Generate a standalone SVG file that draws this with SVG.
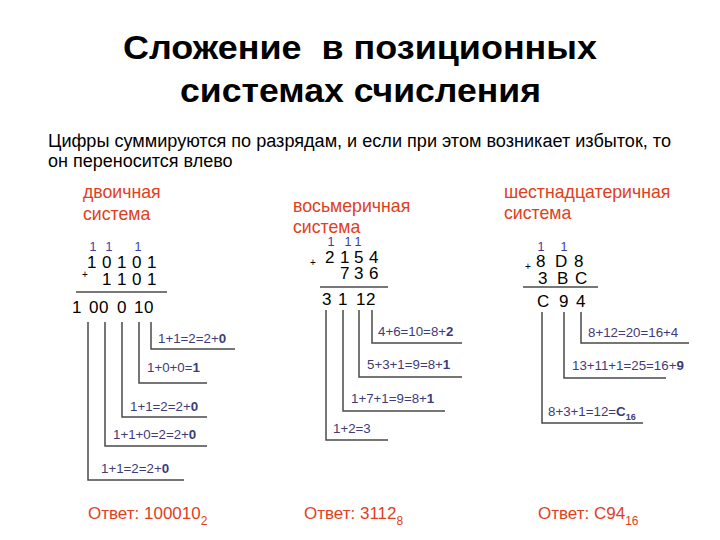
<svg xmlns="http://www.w3.org/2000/svg" width="720" height="540" viewBox="0 0 720 540">
<style>
text{font-family:"Liberation Sans",Arial,sans-serif}
.title{font-size:34px;font-weight:bold;fill:#000}
.sub{font-size:18px;fill:#000}
.lab{font-size:17.7px;fill:#e0401e}
.num{font-size:17px;fill:#000}
.car{font-size:12.5px;fill:#3a3a9a;text-anchor:middle}
.plus{font-size:10px;fill:#000}
.exp{font-size:13.3px;fill:#3c3c78}
.b{font-weight:bold}
.ans{font-size:17px;fill:#e0401e}
.sb{font-size:12px}
.ln{stroke:#4a4a4a;stroke-width:1.5;fill:none}
.sum{stroke:#777;stroke-width:2}
</style>
<rect width="720" height="540" fill="#fff"/>
<g id="title">
<text class="title" x="123" y="59" textLength="474" lengthAdjust="spacingAndGlyphs" xml:space="preserve">Сложение  в позиционных</text>
<text class="title" x="180" y="102" textLength="361" lengthAdjust="spacingAndGlyphs">системах счисления</text>
</g>
<g id="intro">
<text class="sub" x="48" y="147" textLength="623" lengthAdjust="spacingAndGlyphs">Цифры суммируются по разрядам, и если при этом возникает избыток, то</text>
<text class="sub" x="48" y="167">он переносится влево</text>
</g>
<g id="binary">
<text class="lab" x="83" y="198">двоичная</text>
<text class="lab" x="83" y="220">система</text>
<text class="car" x="93 109 138" y="251">111</text>
<text class="num" x="87 102 117 132 147" y="268">10101</text>
<text class="plus" x="82" y="278">+</text>
<text class="num" x="102 117 132 147" y="285">1101</text>
<line class="sum" x1="76" y1="292" x2="167" y2="292"/>
<text class="num" x="72 89 99 117 134 144" y="313">100010</text>
<text class="exp" x="158" y="343">1+1=2=2+<tspan class="b">0</tspan></text>
<text class="exp" x="147" y="372">1+0+0=<tspan class="b">1</tspan></text>
<text class="exp" x="130" y="411">1+1=2=2+<tspan class="b">0</tspan></text>
<text class="exp" x="113" y="439">1+1+0=2=2+<tspan class="b">0</tspan></text>
<text class="exp" x="101" y="473">1+1=2=2+<tspan class="b">0</tspan></text>
<text class="ans" x="88" y="519">Ответ: 100010<tspan class="sb" dy="6">2</tspan></text>
</g>
<g id="octal">
<text class="lab" x="293" y="212">восьмеричная</text>
<text class="lab" x="293" y="233">система</text>
<text class="car" x="331 348 358" y="246">111</text>
<text class="plus" x="310" y="266">+</text>
<text class="num" x="325 340 354 369" y="263">2154</text>
<text class="num" x="340 354 369" y="279">736</text>
<line class="sum" x1="320" y1="287" x2="388" y2="287"/>
<text class="num" x="322 338 356 366" y="305">3112</text>
<text class="exp" x="378" y="336">4+6=10=8+<tspan class="b">2</tspan></text>
<text class="exp" x="367" y="369">5+3+1=9=8+<tspan class="b">1</tspan></text>
<text class="exp" x="351" y="403">1+7+1=9=8+<tspan class="b">1</tspan></text>
<text class="exp" x="333" y="433">1+2=3</text>
<text class="ans" x="304" y="519">Ответ: 3112<tspan class="sb" dy="6">8</tspan></text>
</g>
<g id="hex">
<text class="lab" x="504" y="198">шестнадцатеричная</text>
<text class="lab" x="504" y="219">система</text>
<text class="car" x="541 564" y="251">11</text>
<text class="plus" x="525" y="270">+</text>
<text class="num" x="536 555 574" y="267">8D8</text>
<text class="num" x="538 557 575" y="284">3BC</text>
<line class="sum" x1="523" y1="287" x2="598" y2="287"/>
<text class="num" x="537 559 576" y="307">C94</text>
<text class="exp" x="588" y="337">8+12=20=16+4</text>
<text class="exp" x="572" y="370">13+11+1=25=16+<tspan class="b">9</tspan></text>
<text class="exp" x="548" y="416">8+3+1=12=<tspan class="b">C<tspan font-size="9" dy="4">16</tspan></tspan></text>
<text class="ans" x="538" y="519">Ответ: C94<tspan class="sb" dy="6">16</tspan></text>
</g>
<g id="connectors">
<polyline class="ln" points="88,322 88,480 184,480"/>
<polyline class="ln" points="105,322 105,446 207,446"/>
<polyline class="ln" points="122,322 122,417 207,417"/>
<polyline class="ln" points="139,322 139,383 207,383"/>
<polyline class="ln" points="151,322 151,349 235,349"/>
<polyline class="ln" points="326,310 326,440 388,440"/>
<polyline class="ln" points="343,310 343,411 445,411"/>
<polyline class="ln" points="359,310 359,377 462,377"/>
<polyline class="ln" points="372,310 372,343 462,343"/>
<polyline class="ln" points="542,312 542,423 643,423"/>
<polyline class="ln" points="564,312 564,378 666,378"/>
<polyline class="ln" points="581,312 581,343 689,343"/>
</g>
</svg>
